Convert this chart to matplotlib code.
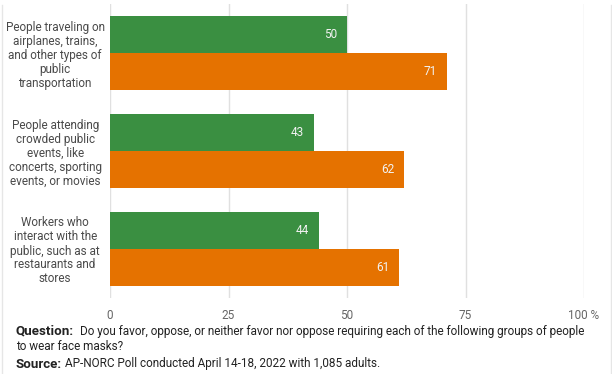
import numpy as np
import matplotlib.pyplot as plt
from matplotlib.lines import Line2D

plt.rcParams['font.family'] = ['Roboto', 'DejaVu Sans']

categories = [
    "People traveling on\nairplanes, trains,\nand other types of\npublic\ntransportation",
    "People attending\ncrowded public\nevents, like\nconcerts, sporting\nevents, or movies",
    "Workers who\ninteract with the\npublic, such as at\nrestaurants and\nstores",
]
series_a = [50, 43, 44]
series_b = [71, 62, 61]
ticks = [0, 25, 50, 75, 100]
tick_labels = ["0", "25", "50", "75", "100 %"]

green = "#3a8f41"
orange = "#e57200"

fig = plt.figure(figsize=(6.12, 3.74), dpi=100)
W, H = 612, 374
# plot area in pixels: x 110..584, y 4..298
ax = fig.add_axes([110 / W, 1 - 298 / H, 474 / W, 294 / H])

y = np.arange(len(categories))
h = 0.375
ax.barh(y - h / 2, series_a, height=h, color=green, zorder=2)
ax.barh(y + h / 2, series_b, height=h, color=orange, zorder=2)

for yi, v in zip(y, series_a):
    ax.text(v - 2, yi - h / 2, str(v), ha="right", va="center",
            color="#f2f2f2", fontsize=8.5, zorder=3)
for yi, v in zip(y, series_b):
    ax.text(v - 2, yi + h / 2, str(v), ha="right", va="center",
            color="#f2f2f2", fontsize=8.5, zorder=3)

ax.set_xlim(0, 100)
ax.set_ylim(len(categories) - 0.5, -0.5)
ax.set_xticks(ticks)
ax.set_xticklabels(tick_labels, color="#666666", fontsize=8.5)
ax.set_yticks(y)
ax.set_yticklabels(categories, color="#4a4a4a", fontsize=8.5,
                   ha="center", linespacing=1.1)
ax.tick_params(axis="y", length=0, pad=39.5)
ax.tick_params(axis="x", length=0, pad=8)
ax.grid(axis="x", color="#e0e0e0", linewidth=1, zorder=0)
for s in ax.spines.values():
    s.set_visible(False)

renderer = fig.canvas.get_renderer()
body_size = 8.5
head_size = 9.6


def label_line(x_px, y_px, head, body, gap):
    t = fig.text(x_px / W, 1 - y_px / H, head, fontsize=head_size,
                 color="#222222", va="center", fontweight="bold")
    bb = t.get_window_extent(renderer)
    fig.text((bb.x1 + gap) / W, 1 - y_px / H, body, fontsize=body_size,
             color="#222222", va="center")


label_line(16, 331, "Question:", "Do you favor, oppose, or neither favor nor oppose requiring each of the following groups of people", 6)
fig.text(16 / W, 1 - 347 / H, "to wear face masks?", fontsize=body_size,
         color="#222222", va="center")
label_line(16, 364, "Source:", "AP-NORC Poll conducted April 14-18, 2022 with 1,085 adults.", 3)

fig.add_artist(Line2D([1.5 / W, 1.5 / W], [0, 1 - 5 / H], color="#e6e6e6", lw=1))
fig.add_artist(Line2D([610.5 / W, 610.5 / W], [0, 1 - 5 / H], color="#e6e6e6", lw=1))

fig.savefig("out.png", dpi=100)
